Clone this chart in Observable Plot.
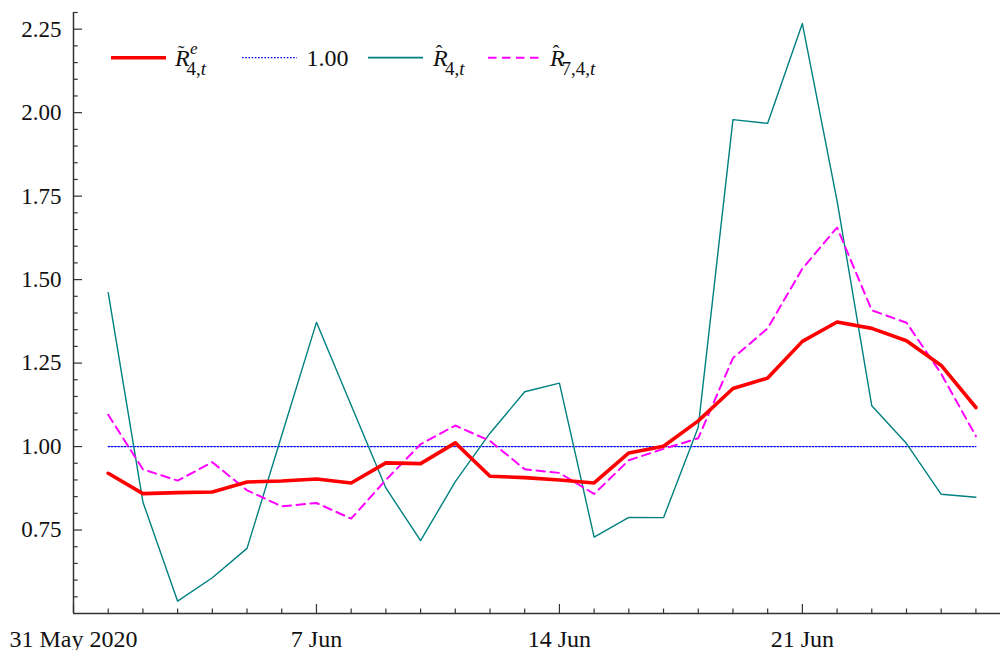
<!DOCTYPE html>
<html>
<head>
<meta charset="utf-8">
<script src="https://cdn.jsdelivr.net/npm/d3@7"></script>
<script src="https://cdn.jsdelivr.net/npm/@observablehq/plot@0.6"></script>
<style>
  html, body { margin: 0; padding: 0; background: #fff; }
  #chart { width: 1000px; height: 650px; }
</style>
</head>
<body>
<div id="chart"></div>
<script>
// ---- data (1 Jun 2020 .. 26 Jun 2020) ----
const startDay = "2020-06-01";
const dayCount = 26;
const rTildeE = [0.920, 0.859, 0.862, 0.864, 0.894, 0.897, 0.903, 0.891, 0.951, 0.949, 1.011, 0.911, 0.907,
                 0.900, 0.891, 0.981, 1.001, 1.077, 1.174, 1.205, 1.315, 1.373, 1.354, 1.317, 1.243, 1.117];
const rHat4 = [1.461, 0.834, 0.537, 0.607, 0.695, 1.034, 1.372, 1.124, 0.876, 0.718, 0.895, 1.040, 1.164,
               1.190, 0.729, 0.788, 0.787, 1.058, 1.979, 1.968, 2.267, 1.736, 1.122, 1.009, 0.857, 0.848];
const rHat74 = [1.095, 0.932, 0.898, 0.953, 0.869, 0.821, 0.831, 0.784, 0.900, 1.007, 1.063, 1.017, 0.932,
                0.921, 0.858, 0.959, 0.993, 1.025, 1.265, 1.354, 1.533, 1.656, 1.408, 1.371, 1.218, 1.031];
const refLevel = [1.00];
const yMajorTicks = [0.75, 1.00, 1.25, 1.50, 1.75, 2.00, 2.25];
const xLabelDates = ["2020-05-31", "2020-06-07", "2020-06-14", "2020-06-21"];
const xLabelTexts = ["31 May 2020", "7 Jun", "14 Jun", "21 Jun"];

// ---- build tables ----
const t0 = new Date(startDay + "T00:00:00Z");
const dates = d3.range(dayCount).map(i => d3.utcDay.offset(t0, i));
const rows = (vals) => vals.map((v, i) => ({date: dates[i], value: v}));
const refRows = dates.map(d => ({date: d, value: refLevel[0]}));

const xStart = new Date("2020-05-31T00:00:00Z");
const xEnd = new Date("2020-06-26T17:00:00Z");
const allDays = d3.utcDay.range(xStart, d3.utcDay.offset(dates[dates.length - 1], 1));
const labelDates = xLabelDates.map(s => new Date(s + "T00:00:00Z"));
const labelMap = new Map(labelDates.map((d, i) => [+d, xLabelTexts[i]]));
const yMinor = d3.range(11, 47).map(k => +(k * 0.05).toFixed(2)).filter(v => !yMajorTicks.some(m => Math.abs(m - v) < 1e-9));

const FONT = "'Liberation Serif', 'Times New Roman', serif";
const AXIS = "#333";

const plot = Plot.plot({
  width: 1000,
  height: 650,
  marginLeft: 73,
  marginRight: 0,
  marginTop: 12,
  marginBottom: 37,
  style: {fontFamily: FONT, fontSize: "23px", color: "#111", background: "#fff"},
  x: {type: "utc", domain: [xStart, xEnd]},
  y: {domain: [0.5, 2.3]},
  marks: [
    // axis lines
    Plot.ruleX([xStart], {stroke: AXIS, strokeWidth: 1.5}),
    Plot.ruleY([0.5], {stroke: AXIS, strokeWidth: 1.5}),
    // y ticks (inward)
    Plot.axisY({ticks: yMinor, tickSize: -4.7, tickFormat: () => "", stroke: AXIS, strokeWidth: 1.2, label: null}),
    Plot.axisY({ticks: yMajorTicks, tickSize: -9, tickFormat: () => "", stroke: AXIS, strokeWidth: 1.2, label: null}),
    Plot.axisY({ticks: yMajorTicks, tickSize: 0, tickPadding: 12, tickFormat: d3.format(".2f"),
                fontSize: 23, fill: "#111", label: null}),
    // x ticks (inward)
    Plot.axisX({ticks: allDays.filter(d => !labelMap.has(+d)), tickSize: -4.5, tickFormat: () => "", stroke: AXIS, strokeWidth: 1.2, label: null}),
    Plot.axisX({ticks: labelDates, tickSize: -9, tickFormat: () => "", stroke: AXIS, strokeWidth: 1.2, label: null}),
    Plot.axisX({ticks: labelDates, tickSize: 0, tickPadding: 16, tickFormat: d => labelMap.get(+d),
                fontSize: 24, fill: "#111", label: null}),
    // series
    Plot.line(refRows, {x: "date", y: "value", stroke: "#0000ff", strokeWidth: 1.3, strokeDasharray: "1.6,1.6"}),
    Plot.line(rows(rHat4), {x: "date", y: "value", stroke: "#008080", strokeWidth: 1.4}),
    Plot.line(rows(rHat74), {x: "date", y: "value", stroke: "#ff00ff", strokeWidth: 2, strokeDasharray: "8.5,5.5"}),
    Plot.line(rows(rTildeE), {x: "date", y: "value", stroke: "#ff0000", strokeWidth: 3.6})
  ]
});

document.getElementById("chart").appendChild(plot);

// ---- legend drawn into the svg ----
const svg = d3.select(plot);
const lg = svg.append("g").attr("font-family", FONT).attr("fill", "#111").attr("text-anchor", "start");
const legendItems = [
  {x: 111, stroke: "#ff0000", width: 3.6, dash: null},
  {x: 242, stroke: "#0000ff", width: 1.3, dash: "1.6,1.6"},
  {x: 368, stroke: "#008080", width: 1.8, dash: null},
  {x: 488, stroke: "#ff00ff", width: 2, dash: "8.5,5.5"}
];
legendItems.forEach(it => {
  lg.append("line").attr("x1", it.x).attr("x2", it.x + 55).attr("y1", 57.7).attr("y2", 57.7)
    .attr("stroke", it.stroke).attr("stroke-width", it.width).attr("stroke-dasharray", it.dash);
});
function sym(x, accent, sup, sub, subDx) {
  const g = lg.append("g");
  g.append("text").attr("x", x).attr("y", 66).attr("font-size", 24).attr("font-style", "italic").text("R");
  g.append("text").attr("x", x + 6).attr("y", 60).attr("font-size", 20).attr("text-anchor", "middle")
    .text(accent === "tilde" ? "\u02DC" : "\u02C6");
  if (sup) g.append("text").attr("x", x + 15).attr("y", 54).attr("font-size", 17).attr("font-style", "italic").text(sup);
  const s = g.append("text").attr("x", x + subDx).attr("y", 75).attr("font-size", 19);
  sub.forEach(p => s.append("tspan").attr("font-style", p.it ? "italic" : "normal").text(p.t));
}
sym(175, "tilde", "e", [{t: "4,", it: false}, {t: "t", it: true}], 11.5);
lg.append("text").attr("x", 306.5).attr("y", 66).attr("font-size", 24).text("1.00");
sym(433, "hat", null, [{t: "4,", it: false}, {t: "t", it: true}], 12);
sym(550, "hat", null, [{t: "7,4,", it: false}, {t: "t", it: true}], 11.5);
</script>
</body>
</html>
